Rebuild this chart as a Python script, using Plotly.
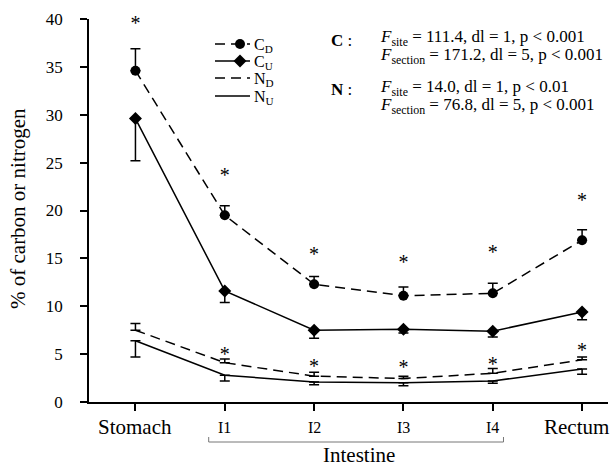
import plotly.graph_objects as go

# ---- data ----
sections = ["Stomach", "I1", "I2", "I3", "I4", "Rectum"]
xpos = [0, 1, 2, 3, 4, 5]

c_d = [34.6, 19.5, 12.3, 11.1, 11.35, 16.9]
c_d_err = [2.3, 1.0, 0.8, 0.9, 1.05, 1.1]          # upper only
c_u = [29.6, 11.6, 7.5, 7.6, 7.4, 9.4]
c_u_err = [4.4, 1.2, 0.85, 0.4, 0.6, 0.8]          # lower only
n_d = [7.5, 4.1, 2.7, 2.45, 3.0, 4.4]
n_d_err = [0.7, 0.4, 0.4, 0.25, 0.5, 0.3]          # upper only
n_u = [6.4, 2.8, 2.1, 2.0, 2.2, 3.45]
n_u_err = [1.7, 0.6, 0.3, 0.3, 0.25, 0.55]         # lower only

c_star_y = [39.4, 23.5, 15.3, 14.4, 15.5, 20.9]
n_star_y = [None, 4.85, 3.6, 3.4, 3.8, 5.2]

y_ticks = [0, 5, 10, 15, 20, 25, 30, 35, 40]

FONT = "Liberation Serif, Times New Roman, serif"
BLACK = "#000"
zeros = [0] * 6

# plot area in pixels
L, R, T, B = 89, 608, 19, 402
W, H = 611, 466


def px(x):
    return (x - L) / (R - L)


def py(y):
    return (B - y) / (B - T)


fig = go.Figure()

def add_series(y, err, up, dash, symbol):
    fig.add_trace(go.Scatter(
        x=xpos, y=y, mode="lines+markers" if symbol else "lines",
        line=dict(color=BLACK, width=1.5, dash=dash),
        marker=dict(symbol=symbol or "circle", size=10, color=BLACK),
        error_y=dict(type="data", symmetric=False,
                     array=err if up else zeros,
                     arrayminus=zeros if up else err,
                     color=BLACK, thickness=1.5, width=5),
        showlegend=False, cliponaxis=False))

add_series(c_d, c_d_err, True, "10px,6px", "circle")
add_series(c_u, c_u_err, False, "solid", "diamond")
add_series(n_d, n_d_err, True, "10px,6px", None)
add_series(n_u, n_u_err, False, "solid", None)

# significance stars
for ys in (c_star_y, n_star_y):
    fig.add_trace(go.Scatter(x=xpos, y=ys, mode="text", text=["*"] * 6,
                             textfont=dict(family=FONT, size=20, color=BLACK),
                             showlegend=False, cliponaxis=False))

# custom legend on overlay axes (paper-like coordinates)
legend_rows = [
    ("C<sub>D</sub>", "10px,6px", "circle", 44),
    ("C<sub>U</sub>", "solid", "diamond", 61),
    ("N<sub>D</sub>", "10px,6px", None, 78),
    ("N<sub>U</sub>", "solid", None, 96),
]
for label, dash, sym, yy in legend_rows:
    fig.add_trace(go.Scatter(
        x=[px(215), px(250)], y=[py(yy), py(yy)], mode="lines",
        line=dict(color=BLACK, width=1.5, dash=dash),
        xaxis="x2", yaxis="y2", showlegend=False, cliponaxis=False))
    if sym:
        fig.add_trace(go.Scatter(
            x=[px(240)], y=[py(yy)], mode="markers",
            marker=dict(symbol=sym, size=10, color=BLACK),
            xaxis="x2", yaxis="y2", showlegend=False, cliponaxis=False))
    fig.add_annotation(x=px(252), y=py(yy + 1), xref="paper", yref="paper",
                       text=label, showarrow=False, xanchor="left", yanchor="middle",
                       font=dict(family=FONT, size=16, color=BLACK))

# statistics text
stats = [
    ("<b>C</b> :", 329, 40),
    ("<i>F</i><sub>site</sub> = 111.4, dl = 1, p &lt; 0.001", 378, 38),
    ("<i>F</i><sub>section</sub> = 171.2, dl = 5, p &lt; 0.001", 378, 56),
    ("<b>N</b> :", 329, 89),
    ("<i>F</i><sub>site</sub> = 14.0, dl = 1, p &lt; 0.01", 378, 88),
    ("<i>F</i><sub>section</sub> = 76.8, dl = 5, p &lt; 0.001", 378, 106),
]
for txt, xx, yy in stats:
    fig.add_annotation(x=px(xx), y=py(yy), xref="paper", yref="paper",
                       text=txt, showarrow=False, xanchor="left", yanchor="middle",
                       font=dict(family=FONT, size=17, color=BLACK))

# x tick labels
for i, lab in enumerate(sections):
    big = lab in ("Stomach", "Rectum")
    fig.add_annotation(x=xpos[i], y=py(427), xref="x", yref="paper",
                       text=lab, showarrow=False, xanchor="center", yanchor="middle",
                       xshift=-6 if lab == "Rectum" else 0,
                       font=dict(family=FONT, size=21 if big else 16, color=BLACK))

# intestine bracket
fig.add_shape(type="path", xref="x", yref="paper",
              path=f"M 0.82,{py(437)} L 0.82,{py(442)} L 4.12,{py(442)} L 4.12,{py(437)}",
              line=dict(color="#777", width=1))
fig.add_annotation(x=2.5, y=py(455), xref="x", yref="paper", text="Intestine",
                   showarrow=False, xanchor="center", yanchor="middle",
                   font=dict(family=FONT, size=21, color=BLACK))

# y title
fig.add_annotation(x=px(18), y=py(209), xref="paper", yref="paper",
                   text="% of carbon or nitrogen", textangle=-90, showarrow=False,
                   xanchor="center", yanchor="middle",
                   font=dict(family=FONT, size=21, color=BLACK))

fig.update_layout(
    width=W, height=H,
    margin=dict(l=L, r=W - R, t=T, b=H - B),
    paper_bgcolor="white", plot_bgcolor="white",
    font=dict(family=FONT, color=BLACK),
    xaxis=dict(range=[-0.52, 5.29], tickvals=xpos, ticktext=[""] * 6,
               showline=True, linecolor=BLACK, linewidth=1.5,
               ticks="outside", ticklen=7, tickwidth=1.5, tickcolor=BLACK,
               showgrid=False, zeroline=False),
    yaxis=dict(range=[0, 40], tickvals=y_ticks,
               showline=True, linecolor=BLACK, linewidth=1.5,
               ticks="outside", ticklen=7, tickwidth=1.5, tickcolor=BLACK,
               ticklabelstandoff=14,
               tickfont=dict(family=FONT, size=17, color=BLACK),
               showgrid=False, zeroline=False),
    xaxis2=dict(range=[0, 1], domain=[0, 1], overlaying="x", visible=False,
                anchor="y2"),
    yaxis2=dict(range=[0, 1], domain=[0, 1], overlaying="y", visible=False,
                anchor="x2"),
)

fig.write_html("out.html")
